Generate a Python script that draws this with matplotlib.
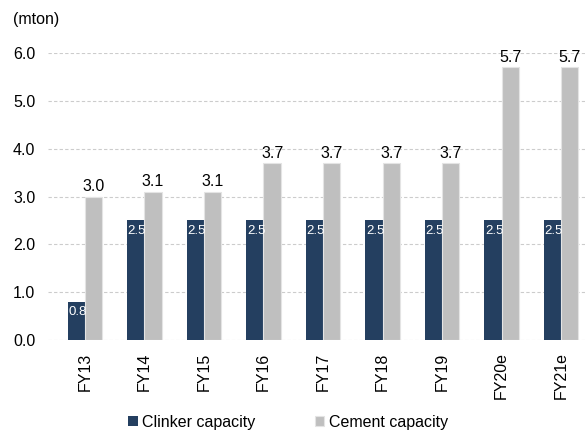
import numpy as np
import matplotlib.pyplot as plt

years = ['FY13', 'FY14', 'FY15', 'FY16', 'FY17', 'FY18', 'FY19', 'FY20e', 'FY21e']
clinker = [0.8, 2.5, 2.5, 2.5, 2.5, 2.5, 2.5, 2.5, 2.5]
cement = [3.0, 3.1, 3.1, 3.7, 3.7, 3.7, 3.7, 5.7, 5.7]

plt.rcParams['font.family'] = ['Liberation Sans Narrow', 'Liberation Sans', 'DejaVu Sans']

fig = plt.figure(figsize=(5.85, 4.32), dpi=100)
ax = fig.add_axes([0.082, 0.213, 0.918, 0.664])

x = np.arange(len(years))
w = 0.29
b1 = ax.bar(x - w / 2, clinker, w, color='#243F60', label='Clinker capacity', zorder=3)
b2 = ax.bar(x + w / 2, cement, w, color='#BFBFBF', edgecolor='#E4E4E4', linewidth=0.8,
            label='Cement capacity', zorder=3)

# clinker values inside the bar, cement values on top
for xi, v in zip(x, clinker):
    ax.text(xi - w + 0.01, v - 0.09, f'{v:.1f}', color='white', fontsize=9.5,
            ha='left', va='top', zorder=4)
for xi, v in zip(x, cement):
    ax.text(xi + w / 2, v + 0.05, f'{v:.1f}', color='black', fontsize=11.5,
            ha='center', va='bottom', zorder=4)

ax.set_xlim(-0.62, 8.40)
ax.set_ylim(0, 6.0)
ax.set_yticks(np.arange(0, 6.1, 1.0))
ax.set_yticklabels([f'{t:.1f}' for t in np.arange(0, 6.1, 1.0)], fontsize=11.5)
ax.set_xticks(x)
ax.set_xticklabels(years, rotation=90, fontsize=11.5)
ax.tick_params(length=0, pad=9)
ax.tick_params(axis='y', pad=9)
for s in ax.spines.values():
    s.set_visible(False)
ax.grid(axis='y', color='#CCCCCC', linestyle=(0, (3, 2)), linewidth=0.8, zorder=0)

fig.text(0.022, 0.955, '(mton)', fontsize=11.5, ha='left', va='center')

fig.legend(handles=[b1, b2], loc='center left', bbox_to_anchor=(0.219, 0.022), ncol=2,
           frameon=False, fontsize=11.5, handlelength=0.6, handleheight=0.6,
           handletextpad=0.3, columnspacing=3.7, borderpad=0, borderaxespad=0)

fig.savefig('out.png', dpi=100)
